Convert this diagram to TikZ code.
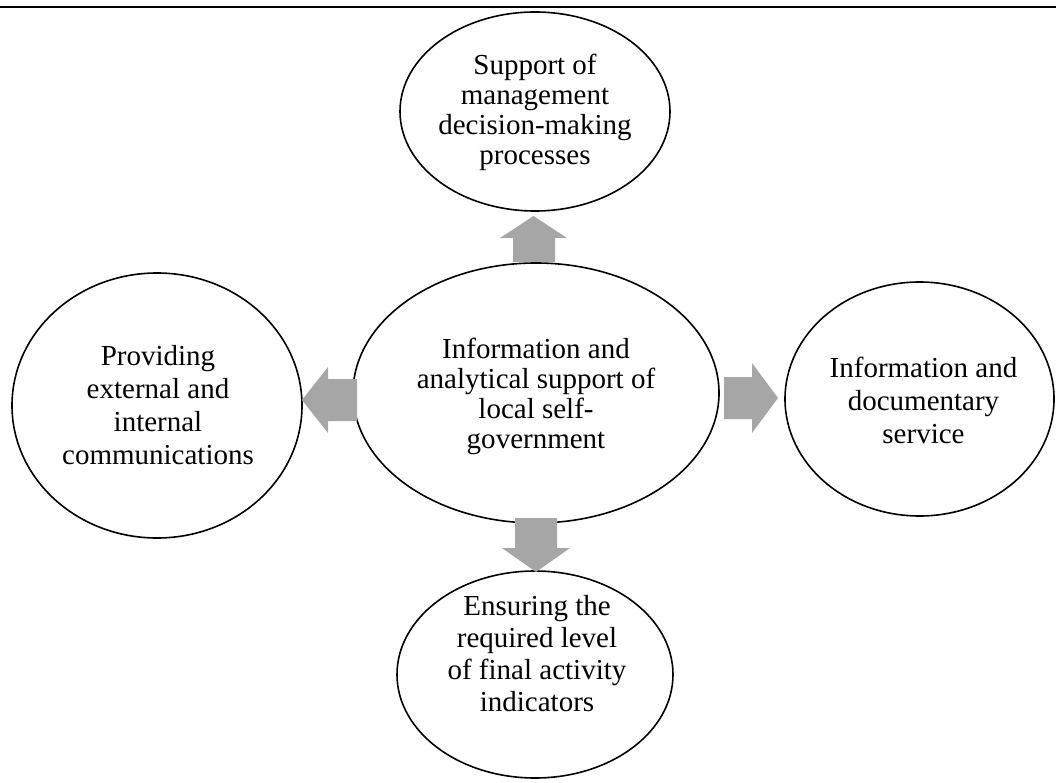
\documentclass[tikz,border=0pt]{standalone}
\usepackage{fontspec}
\setmainfont{Liberation Serif}
\usetikzlibrary{shapes.geometric}
\definecolor{arrowgray}{RGB}{166,166,166}
\tikzset{
  oval/.style={ellipse,draw=black,line width=1.6pt,inner sep=0pt},
  lbl/.style={align=center,font=\fontsize{29}{30}\selectfont,inner sep=0pt},
  blk/.style={fill=arrowgray,draw=none}
}
\begin{document}
\begin{tikzpicture}[x=1pt,y=-1pt]
\useasboundingbox (0,0) rectangle (1056,783);
\draw[line width=2pt] (0,7.5) -- (1056,7.5);
% ellipses
\node[oval,minimum width=270pt,minimum height=199pt] (top) at (535,111.5) {};
\node[oval,minimum width=366pt,minimum height=260pt] (mid) at (536,393) {};
\node[oval,minimum width=290pt,minimum height=265pt] (left) at (157,405.5) {};
\node[oval,minimum width=269pt,minimum height=234pt] (right) at (919.5,399) {};
\node[oval,minimum width=276pt,minimum height=207pt] (bot) at (535,674.5) {};
% texts
\node[lbl] (ttop) at ([yshift=-1pt]top.center) {Support of\\management\\decision-making\\processes};
\node[lbl] (tmid) at ([yshift=-3pt]mid.center) {Information and\\analytical support of\\local self-\\government};
\node[lbl,font=\fontsize{29}{33}\selectfont] (tleft) at ([xshift=1pt]left.center) {Providing\\external and\\internal\\communications};
\node[lbl,font=\fontsize{29}{33}\selectfont] (tright) at ([xshift=4pt,yshift=-1pt]right.center) {Information and\\documentary\\service};
\node[lbl,font=\fontsize{29}{32}\selectfont] (tbot) at ([xshift=2pt,yshift=21pt]bot.center) {Ensuring the\\required level\\of final activity\\indicators};
% block arrows
\fill[blk] (513,262) -- (513,238) -- (500,238) -- (533.5,216) -- (567,238) -- (555,238) -- (555,262) -- cycle;
\fill[blk] (515,518) -- (515,548) -- (502,548) -- (536,572) -- (570,548) -- (557,548) -- (557,518) -- cycle;
\fill[blk] (357,379) -- (328,379) -- (328,367) -- (302,400) -- (328,433) -- (328,421) -- (357,421) -- cycle;
\fill[blk] (724,377) -- (752,377) -- (752,363) -- (778,398) -- (752,433) -- (752,419) -- (724,419) -- cycle;
\end{tikzpicture}
\end{document}
